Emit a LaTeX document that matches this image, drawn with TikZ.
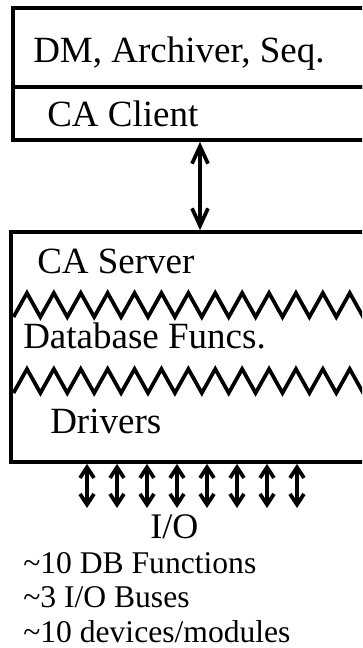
\documentclass[tikz,border=0pt]{standalone}
\usepackage{fontspec}
\setmainfont{Liberation Serif}
\usetikzlibrary{arrows.meta, calc}

\tikzset{
  layer/.style={draw, rectangle, line width=2.8pt, inner sep=0pt},
  lbl/.style={anchor=base west, inner sep=0pt, font=\fontsize{27.75}{30}\selectfont},
  note/.style={anchor=base west, inner sep=0pt, font=\fontsize{23.7}{26}\selectfont},
  wave/.style={line width=2.8pt},
  bigarrow/.style={{Straight Barb[length=13pt,width=12pt]}-{Straight Barb[length=13pt,width=12pt]}, line width=2.8pt},
  iolink/.style={{Straight Barb[length=8pt,width=10.5pt]}-{Straight Barb[length=8pt,width=10.5pt]}, line width=2.8pt},
}

\begin{document}
\begin{tikzpicture}[x=0.75pt, y=-0.75pt]
\path[use as bounding box, clip] (0,0) rectangle (362,648);

\node[layer, minimum width=280.5pt, minimum height=59.25pt] (apps) at (200,47.5) {};
\node[layer, minimum width=280.5pt, minimum height=39.75pt] (client) at (200,113.5) {};
\node[layer, minimum width=283.5pt, minimum height=172.5pt] (server) at (200,347) {};

\node[lbl] (appsname) at (33,63) {DM, Archiver, Seq.};
\node[lbl] (clientname) at (47,127) {CA Client};
\node[lbl] (servername) at (37,273) {CA Server};
\node[lbl] (dbname) at (23,348) {Database Funcs.};
\node[lbl] (drvname) at (50,433) {Drivers};

% layer borders inside the server
\draw[wave] (13.5,317) \foreach \k in {0,...,13} { -- ++(13.45,-24) -- ++(13.45,24) };
\draw[wave] (13.5,393) \foreach \k in {0,...,13} { -- ++(13.45,-24) -- ++(13.45,24) };

\draw[bigarrow] (client.south) -- (server.north);

\foreach \i in {0,...,7} {
  \coordinate (io\i) at ({87+30*\i},508);
  \draw[iolink] (io\i |- server.south) -- (io\i);
}

\node[lbl, font=\fontsize{27}{30}\selectfont] (io) at (150,538) {I/O};
\node[note] (nfunc) at (23,573) {\textasciitilde 10 DB Functions};
\node[note] (nbus) at (23,607) {\textasciitilde 3 I/O Buses};
\node[note] (ndev) at (23,642) {\textasciitilde 10 devices/modules};
\end{tikzpicture}
\end{document}
